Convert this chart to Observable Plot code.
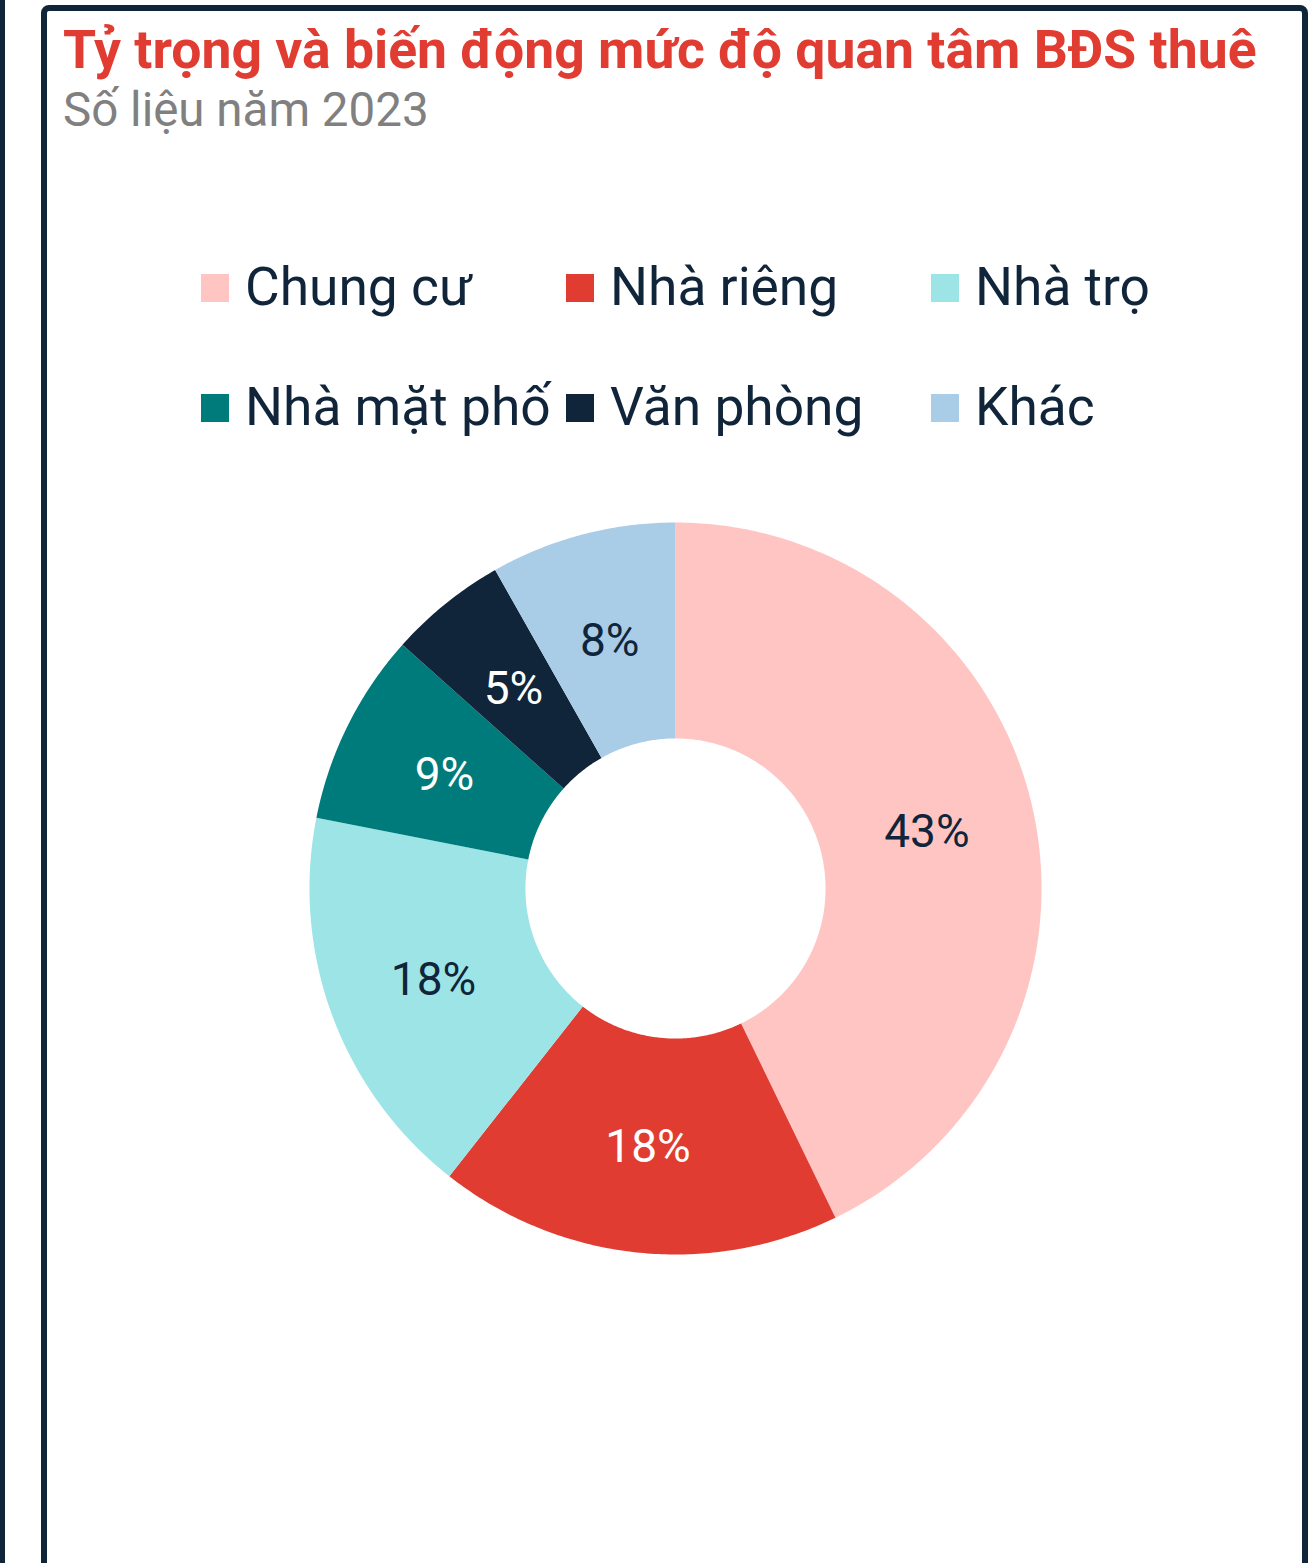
<!DOCTYPE html>
<html>
<head>
<meta charset="utf-8">
<script src="https://cdn.jsdelivr.net/npm/d3@7"></script>
<script src="https://cdn.jsdelivr.net/npm/@observablehq/plot@0.6"></script>
<style>
  html, body { margin: 0; padding: 0; background: #fff; }
  body { width: 1310px; height: 1563px; position: relative; overflow: hidden; font-family: Roboto, "Noto Sans", sans-serif; }
  #leftbar { position: absolute; left: 0; top: 0; width: 5px; height: 1563px; background: #10253A; }
  #card { position: absolute; left: 41px; top: 5px; width: 1255px; height: 1700px; border: 6px solid #10253A; border-radius: 8px; background: #fff; }
  .abs { position: absolute; white-space: nowrap; }
  #title { left: 63px; top: 23px; font-size: 53.5px; line-height: 53.5px; font-weight: 700; color: #E03C31; }
  #subtitle { left: 63px; top: 87px; font-size: 47.5px; line-height: 47.5px; color: #808080; }
  .leg-item { position: absolute; display: flex; align-items: center; height: 53px; }
  .leg-sw { width: 28px; height: 28px; margin-right: 16px; flex: none; }
  .leg-tx { font-size: 53.3px; line-height: 53px; color: #10253A; }
  #chart { position: absolute; left: 47px; top: 470px; }
</style>
</head>
<body>
<div id="leftbar"></div>
<div id="card"></div>
<div id="title" class="abs">Tỷ trọng và biến động mức độ quan tâm BĐS thuê</div>
<div id="subtitle" class="abs">Số liệu năm 2023</div>
<div id="legend"></div>
<div id="chart"></div>
<script>
// Data
const categories = ["Chung cư", "Nhà riêng", "Nhà trọ", "Nhà mặt phố", "Văn phòng", "Khác"];
const shares = [42.8, 17.8, 17.5, 8.5, 5.2, 8.2];
const colors = ["#FFC5C3", "#E03C31", "#9DE4E6", "#007B7C", "#10253A", "#A9CCE7"];
const labelColors = ["#10253A", "#ffffff", "#10253A", "#ffffff", "#ffffff", "#10253A"];

// Legend (HTML, above the SVG)
const legend = document.getElementById("legend");
categories.forEach((c, i) => {
  const col = i % 3, row = Math.floor(i / 3);
  const item = document.createElement("div");
  item.className = "leg-item";
  item.style.left = (201 + col * 365) + "px";
  item.style.top = (261 + row * 120) + "px";
  item.innerHTML = `<div class="leg-sw" style="background:${colors[i]}"></div><div class="leg-tx">${c}</div>`;
  legend.appendChild(item);
});

// Donut geometry derived from the data
const innerR = 0.41, outerR = 1;
const pie = d3.pie().sort(null).value(d => d.value).startAngle(0).endAngle(2 * Math.PI);
const rows = categories.map((c, i) => ({category: c, value: shares[i]}));
const arcs = pie(rows);
const polys = [];
const labels = [];
arcs.forEach(a => {
  const n = Math.max(8, Math.ceil((a.endAngle - a.startAngle) / 0.01));
  for (let k = 0; k <= n; k++) {
    const t = a.startAngle + (a.endAngle - a.startAngle) * k / n;
    polys.push({category: a.data.category, x: outerR * Math.sin(t), y: outerR * Math.cos(t)});
  }
  for (let k = n; k >= 0; k--) {
    const t = a.startAngle + (a.endAngle - a.startAngle) * k / n;
    polys.push({category: a.data.category, x: innerR * Math.sin(t), y: innerR * Math.cos(t)});
  }
  const m = (a.startAngle + a.endAngle) / 2, r = (innerR + outerR) / 2;
  labels.push({category: a.data.category, x: r * Math.sin(m), y: r * Math.cos(m), text: Math.round(a.data.value) + "%"});
});

const cx = 628, cy = 418, R = 366;
const plot = Plot.plot({
  width: 1256,
  height: 840,
  margin: 0,
  style: {background: "transparent", fontFamily: "Roboto, sans-serif"},
  x: {domain: [-1, 1], range: [cx - R, cx + R], axis: null},
  y: {domain: [-1, 1], range: [cy + R, cy - R], axis: null},
  color: {domain: categories, range: colors},
  marks: [
    Plot.line(polys, {x: "x", y: "y", z: "category", fill: "category", stroke: "none", curve: "linear-closed"}),
    Plot.text(labels, {x: "x", y: "y", text: "text", fontSize: 46, fill: d => labelColors[categories.indexOf(d.category)], dy: 2})
  ]
});
document.getElementById("chart").appendChild(plot);
</script>
</body>
</html>
